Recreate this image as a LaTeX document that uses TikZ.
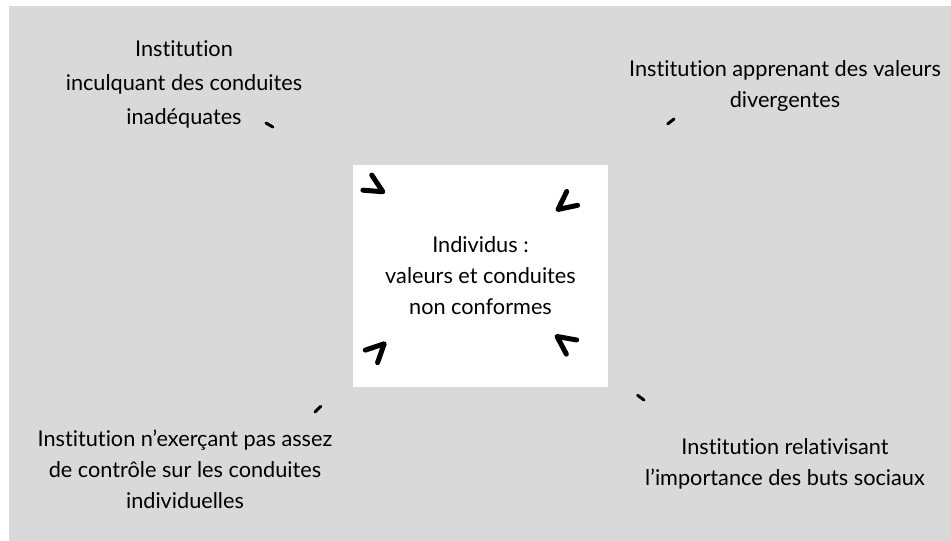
\documentclass[tikz,border=0pt]{standalone}
\usepackage{fontspec}
\setmainfont{Lato}[Ligatures=NoCommon]
\usetikzlibrary{arrows.meta}
\definecolor{bggrey}{RGB}{217,217,217}
\begin{document}
\begin{tikzpicture}[x=1pt,y=-1pt,
  lbl/.style={align=center, font=\fontsize{21.7}{31}\selectfont, inner sep=0pt, text=black},
  conn/.style={line width=3pt, line cap=round, dash pattern=on 8pt off 3000pt,
    -{Straight Barb[angle=52:20pt, line width=5pt, line cap=round, line join=round]}}]
\useasboundingbox (0,0) rectangle (951,541);
\fill[bggrey] (9,6) rectangle (951,541);
\node[fill=white, minimum width=255pt, minimum height=222pt, inner sep=0pt, lbl] (box) at (480.5,276)
  {Individus :\\valeurs et conduites\\non conformes};
\node[lbl, font=\fontsize{21.7}{34}\selectfont] (tl) at (184,84) {Institution\\inculquant des conduites\\inadéquates};
\node[lbl] (tr) at (785,86) {Institution apprenant des valeurs\\divergentes};
\node[lbl] (bl) at (185,469) {Institution n’exerçant pas assez\\de contrôle sur les conduites\\individuelles};
\node[lbl] (br) at (785,464) {Institution relativisant\\l’importance des buts sociaux};
\coordinate (s1) at (266,123); \coordinate (e1) at (385,193);
\coordinate (s2) at (674,119); \coordinate (e2) at (556,211);
\coordinate (s3) at (315,412); \coordinate (e3) at (386,342);
\coordinate (s4) at (644,400); \coordinate (e4) at (555,335);
\draw[conn] (s1) -- (e1);
\draw[conn] (s2) -- (e2);
\draw[conn] (s3) -- (e3);
\draw[conn] (s4) -- (e4);
\end{tikzpicture}
\end{document}
